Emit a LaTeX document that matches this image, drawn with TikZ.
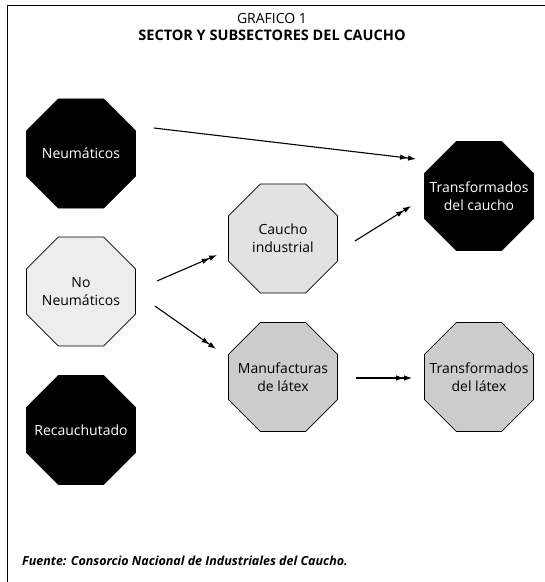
\documentclass[tikz,border=0pt]{standalone}
\usepackage{fontspec}
\setmainfont{Open Sans}
\usetikzlibrary{shapes.geometric,arrows.meta,calc}
\definecolor{lightA}{HTML}{EDEDED}
\definecolor{lightB}{HTML}{E2E2E2}
\definecolor{midC}{HTML}{CCCCCC}
\tikzset{
  octo/.style={regular polygon, regular polygon sides=8, minimum size=118pt, inner sep=0pt, draw=black, line width=0.8pt},
  octodark/.style={octo, fill=black},
  lbl/.style={align=center, font=\fontsize{14}{18}\selectfont},
  conn/.style={line width=1.1pt, -{Latex[length=8pt,width=5.5pt]Latex[length=8pt,width=5.5pt]}},
}
\begin{document}
\begin{tikzpicture}[x=1pt,y=-1pt]
\useasboundingbox (0,0) rectangle (545,582);
\draw[line width=0.8pt] (7,582) -- (7,5) -- (545,5);
\node (t1) at (272,18) {\fontsize{14}{16}\selectfont GRAFICO 1};
\node (t2) at (272,35) {\fontsize{14.5}{16}\selectfont\bfseries SECTOR Y SUBSECTORES DEL CAUCHO};
\node[anchor=base west, inner sep=0pt] (src) at (22,565) {\fontsize{12.5}{14}\selectfont\bfseries\itshape Fuente: Consorcio Nacional de Industriales del Caucho.};

\node[octodark, label={[lbl,text=white]center:Neumáticos}] (neu) at (81,153.5) {};
\node[octo, fill=lightA, label={[lbl]center:No\\Neumáticos}] (nn) at (81,291.5) {};
\node[octodark, label={[lbl,text=white]center:Recauchutado}] (rec) at (81,430) {};
\node[octo, fill=lightB, label={[lbl]center:Caucho\\industrial}] (ci) at (283,238.5) {};
\node[octo, fill=midC, label={[lbl]center:Manufacturas\\de látex}] (ml) at (283,377) {};
\node[octodark, label={[lbl,text=white]center:Transformados\\del caucho}] (tc) at (479,196) {};
\node[octo, fill=midC, label={[lbl]center:Transformados\\del látex}] (tl) at (479,377) {};

\draw[conn] ($(neu.east)+(18,-25.5)$) -- ($(tc.west)+(-8,-37)$);
\draw[conn] ($(ci.east)+(17,2.5)$) -- ($(tc.west)+(-13,10)$);
\draw[conn] ($(nn.east)+(21,-10.5)$) -- ($(ci.west)+(-11,16.5)$);
\draw[conn] ($(nn.east)+(19,14.5)$) -- ($(ml.west)+(-12,-28)$);
\draw[conn] ($(ml.east)+(18,1)$) -- ($(tl.west)+(-12,1)$);
\end{tikzpicture}
\end{document}
